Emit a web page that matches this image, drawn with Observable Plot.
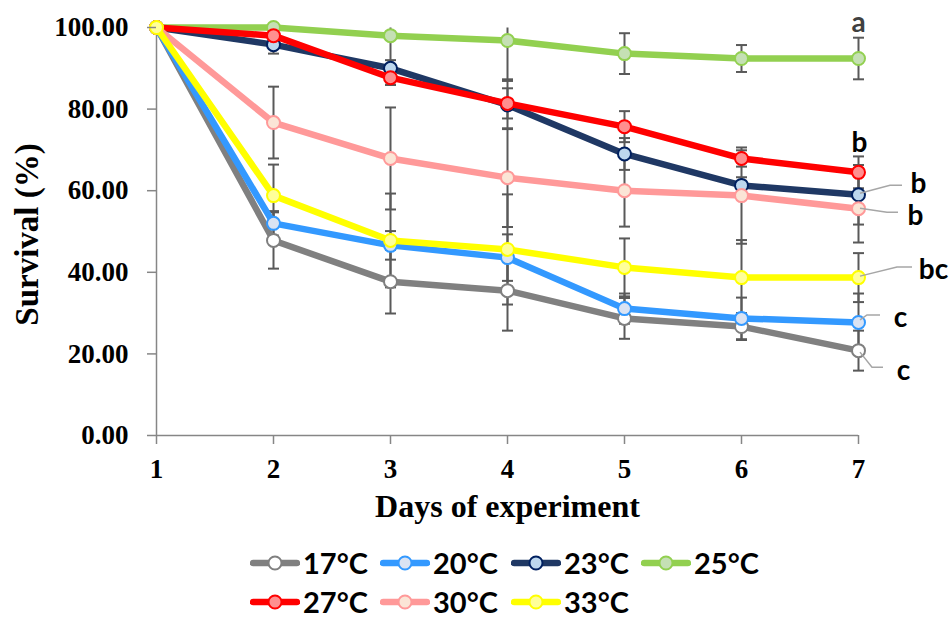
<!DOCTYPE html>
<html><head><meta charset="utf-8">
<script src="https://cdn.jsdelivr.net/npm/d3@7"></script>
<script src="https://cdn.jsdelivr.net/npm/@observablehq/plot@0.6"></script>
<style>
body{margin:0;background:#fff;}
#chart{width:952px;height:620px;position:relative;overflow:hidden;background:#fff;}
#legend{position:relative;height:80px;width:952px;font-family:Lato,sans-serif;font-weight:bold;font-size:29px;color:#000;}
.item{position:absolute;display:flex;align-items:center;height:30px;line-height:30px;}
.item svg{margin-right:3px;}
</style></head><body><div id="chart"></div>
<script>
// ---- data ----
const days = [1, 2, 3, 4, 5, 6, 7];
const seriesNames = ["17°C", "20°C", "23°C", "25°C", "27°C", "30°C", "33°C"];
const s17 = [100, 47.8, 37.7, 35.5, 28.7, 26.7, 20.8];
const s20 = [100, 52.0, 46.6, 43.6, 31.1, 28.7, 27.7];
const s23 = [100, 95.8, 90.0, 81.0, 69.0, 61.3, 59.0];
const s25 = [100, 100, 98.0, 96.8, 93.6, 92.4, 92.4];
const s27 = [100, 98.0, 87.7, 81.4, 75.7, 67.9, 64.5];
const s30 = [100, 76.7, 67.9, 63.2, 60.0, 58.8, 55.6];
const s33 = [100, 58.8, 47.8, 45.6, 41.2, 38.7, 38.7];
const e17 = [0, 6.9, 7.8, 9.8, 5.0, 3.3, 4.9];
const e20 = [0, 3.0, 3.5, 5.7, 3.7, 5.1, 7.1];
const e23 = [0, 2.2, 2.0, 5.9, 3.9, 2.0, 7.3];
const e25 = [0, 0, 12.0, 9.5, 5.0, 3.3, 5.1];
const e27 = [0, 1.0, 1.8, 3.7, 3.8, 2.0, 3.9];
const e30 = [0, 8.8, 12.5, 12.1, 8.8, 11.8, 8.3];
const e33 = [0, 7.6, 11.5, 13.5, 7.1, 9.2, 6.0];
const sigLetters = ["c", "c", "b", "a", "b", "b", "bc"];
const yTicks = [0, 20, 40, 60, 80, 100];

const values = [s17, s20, s23, s25, s27, s30, s33];
const errs = [e17, e20, e23, e25, e27, e30, e33];

// ---- styles ----
const lineColor = ["#808080", "#3399ff", "#1f3864", "#92d050", "#ff0000", "#ff9999", "#ffff00"];
const dotStroke = ["#7f7f7f", "#3399ff", "#002060", "#92d050", "#ff0000", "#ff9999", "#ffff00"];
const dotFill = ["#ffffff", "#dae3f3", "#bdd7ee", "#c5e0b4", "#ff8f8f", "#fbe5d6", "#ffff99"];
// label offsets in px relative to the day-7 point
const labelOffset = [[45, 20], [42, -4], [60, -11], [0, -35], [1, -29], [57, 7], [75, -8]];
const leaderPath = [
  [[2, 2], [14, 17], [25, 17]],
  [[2, -2], [9, -7], [22, -7]],
  [[2, -1], [32, -9], [44, -9]],
  null, null,
  [[2, 0], [29, 4], [40, 4]],
  [[2, -1], [39, -10], [54, -10]]
];

const rows = [];
seriesNames.forEach((name, i) => {
  days.forEach((d, j) => rows.push({series: name, si: i, day: d, v: values[i][j], e: errs[i][j]}));
});
const errRows = rows.filter(r => r.e > 0).map(r => ({...r, lo: r.v - r.e, hi: Math.min(100, r.v + r.e), clipped: r.v + r.e > 100}));

const capSymbol = {
  draw(ctx, size) {
    const r = Math.sqrt(size / Math.PI);
    ctx.moveTo(-r, 0); ctx.lineTo(r, 0);
  }
};

const serif = "'Liberation Serif', 'Times New Roman', serif";
const marks = [];
// error bars
marks.push(Plot.link(errRows, {x1: "day", x2: "day", y1: "lo", y2: "hi", stroke: "#595959", strokeWidth: 2}));
marks.push(Plot.dot(errRows, {x: "day", y: "lo", symbol: capSymbol, r: 5.5, stroke: "#595959", strokeWidth: 2, fill: "none"}));
marks.push(Plot.dot(errRows.filter(r => !r.clipped), {x: "day", y: "hi", symbol: capSymbol, r: 5.5, stroke: "#595959", strokeWidth: 2, fill: "none"}));
// axis lines
marks.push(Plot.ruleY([0], {stroke: "#868686", strokeWidth: 1.5}));
marks.push(Plot.ruleX([1], {stroke: "#868686", strokeWidth: 1.5}));
// series
seriesNames.forEach((name, i) => {
  const data = rows.filter(r => r.si === i);
  marks.push(Plot.line(data, {x: "day", y: "v", stroke: lineColor[i], strokeWidth: 6.5, strokeLinejoin: "round", strokeLinecap: "round"}));
  marks.push(Plot.dot(data, {x: "day", y: "v", r: 6.5, fill: dotFill[i], stroke: dotStroke[i], strokeWidth: 2}));
});
// leader lines
marks.push((index, scales) => {
  const g = d3.create("svg:g").attr("fill", "none").attr("stroke", "#a6a6a6").attr("stroke-width", 1.5);
  seriesNames.forEach((name, i) => {
    const p = leaderPath[i];
    if (!p) return;
    const px = scales.x(7), py = scales.y(values[i][6]);
    g.append("polyline").attr("points", p.map(([dx, dy]) => `${px + dx},${py + dy}`).join(" "));
  });
  return g.node();
});
// letters
seriesNames.forEach((name, i) => {
  marks.push(Plot.text([values[i][6]], {x: 7, y: d => d, text: [sigLetters[i]], dx: labelOffset[i][0], dy: labelOffset[i][1],
    fontFamily: "Lato, sans-serif", fontWeight: "bold", fontSize: 28, fill: i === 3 ? "#404040" : "#000"}));
});
// axes
marks.push(Plot.axisY({ticks: yTicks, tickFormat: d => d.toFixed(2), tickSize: 9, tickPadding: 19, stroke: "#868686", strokeWidth: 1.5,
  fontSize: 27, fontWeight: "bold", fontFamily: serif, label: null}));
marks.push(Plot.axisX({ticks: days, tickFormat: d => String(d), tickSize: 9, tickPadding: 14, stroke: "#868686", strokeWidth: 1.5,
  fontSize: 27, fontWeight: "bold", fontFamily: serif, label: null}));
// titles
marks.push(Plot.text(["Days of experiment"], {frameAnchor: "bottom", textAnchor: "middle", dy: 81, fontSize: 32, fontWeight: "bold", fontFamily: serif, fill: "#000"}));
marks.push(Plot.text(["Survival (%)"], {frameAnchor: "left", textAnchor: "middle", dx: -129, dy: 3, rotate: -90, fontSize: 33, fontWeight: "bold", fontFamily: serif, fill: "#000"}));

const chart = Plot.plot({
  width: 952, height: 540,
  marginLeft: 156, marginRight: 94, marginTop: 27, marginBottom: 105,
  x: {domain: [1, 7], axis: null},
  y: {domain: [0, 100], axis: null},
  style: {background: "#fff", color: "#000", overflow: "visible", fontFamily: serif},
  marks
});
const host = document.getElementById("chart");
host.appendChild(chart);

// legend
const legend = document.createElement("div");
legend.id = "legend";
const legendCols = [250, 380, 511, 641];
seriesNames.forEach((name, i) => {
  const it = document.createElement("div");
  it.className = "item";
  it.style.left = legendCols[i % 4] + "px";
  it.style.top = (i < 4 ? 8 : 47) + "px";
  it.innerHTML = `<svg width="50" height="20"><line x1="3" y1="10" x2="47" y2="10" stroke="${lineColor[i]}" stroke-width="6.5" stroke-linecap="round"/><circle cx="25" cy="10" r="6.5" fill="${dotFill[i]}" stroke="${dotStroke[i]}" stroke-width="2"/></svg><span>${name}</span>`;
  legend.appendChild(it);
});
host.appendChild(legend);
</script></body></html>
